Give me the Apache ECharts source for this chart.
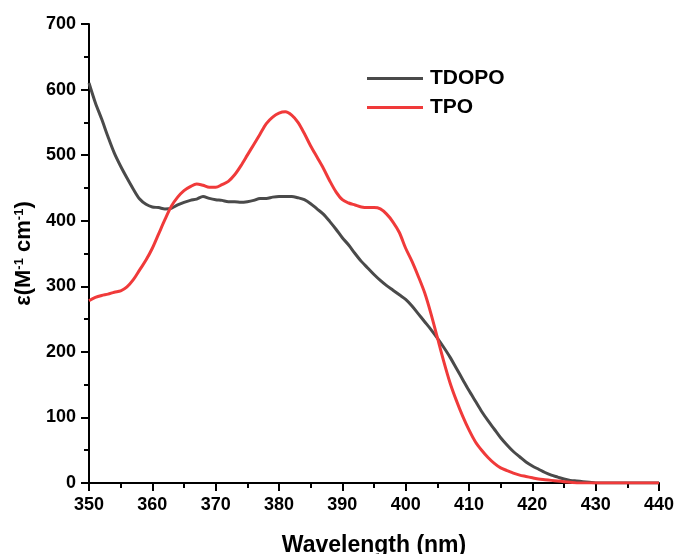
<!DOCTYPE html>
<html>
<head>
<meta charset="utf-8">
<script src="https://cdn.jsdelivr.net/npm/echarts@6/dist/echarts.min.js"></script>
<style>
  html, body { margin: 0; padding: 0; background: #fff; overflow: hidden; }
  #chart { width: 677px; height: 554px; }
</style>
</head>
<body>
<div id="chart"></div>
<script>
  // wavelength grid, nm (1 nm steps, 350..440)
  const wavelengths = [];
  for (let w = 350; w <= 440; w++) wavelengths.push(w);

  // molar absorptivity
  const tdopo = [
    610, 580, 555, 528, 503, 483, 465, 448, 433, 425,
    421, 420, 418, 419, 424, 428, 431, 433, 437, 434,
    432, 431, 429, 429, 428, 429, 431, 434, 434, 436,
    437, 437, 437, 435, 432, 426, 418, 410, 399, 387,
    374, 363, 350, 338, 328, 318, 309, 301, 294, 287,
    280, 270, 258, 246, 234, 221, 207, 192, 175, 158,
    141, 125, 109, 95, 82, 69, 58, 48, 40, 32,
    26, 21, 16, 12, 9, 6, 4, 3, 2, 1,
    0, 0, 0, 0, 0, 0, 0, 0, 0, 0, 0
  ];
  const tpo = [
    278, 283, 286, 288, 291, 293, 299, 310, 325, 340,
    358, 380, 402, 422, 436, 446, 452, 456, 454, 451,
    451, 455, 460, 470, 484, 500, 516, 532, 548, 558,
    564, 566, 561, 550, 533, 514, 497, 480, 461, 444,
    432, 427, 424, 421, 420, 420, 418, 410, 398, 382,
    358, 338, 315, 290, 258, 222, 186, 153, 126, 102,
    81, 63, 50, 39, 30, 23, 19, 15, 12, 10,
    8, 6, 5, 4, 3, 2, 1, 0, 0, 0,
    0, 0, 0, 0, 0, 0, 0, 0, 0, 0, 0
  ];

  const pairs = (ys) => wavelengths.map((w, i) => [w, ys[i]]);

  const font = 'Liberation Sans, Arial, sans-serif';
  const axisCommon = {
    axisLine: { show: true, lineStyle: { color: '#000', width: 2 } },
    axisTick: { show: true, inside: false, length: 8, lineStyle: { color: '#000', width: 2 } },
    minorTick: { show: true, splitNumber: 2, length: 5, lineStyle: { color: '#000', width: 2 } },
    splitLine: { show: false },
    axisLabel: { color: '#000', fontFamily: font, fontWeight: 'bold', fontSize: 18, margin: 13 }
  };

  const chart = echarts.init(document.getElementById('chart'));
  chart.setOption({
    animation: false,
    grid: { left: 89, right: 18, top: 24, bottom: 71, containLabel: false, outerBoundsMode: 'none' },
    legend: {
      orient: 'vertical',
      left: 362,
      top: 63,
      itemWidth: 56,
      itemHeight: 3,
      itemGap: 8,
      icon: 'rect',
      textStyle: { color: '#000', fontFamily: font, fontWeight: 'bold', fontSize: 21, padding: [0, 0, 0, 2] },
      data: ['TDOPO', 'TPO']
    },
    xAxis: Object.assign({
      type: 'value',
      min: 350,
      max: 440,
      interval: 10,
      name: 'Wavelength (nm)',
      nameLocation: 'middle',
      nameGap: 51,
      nameTextStyle: { color: '#000', fontFamily: font, fontWeight: 'bold', fontSize: 23 }
    }, axisCommon),
    yAxis: Object.assign({
      type: 'value',
      min: 0,
      max: 700,
      interval: 100,
      name: '{b|ε(M}{s|-1}{b| cm}{s|-1}{b|)}',
      nameLocation: 'middle',
      nameGap: 52,
      nameTextStyle: {
        rich: {
          b: { color: '#000', fontFamily: font, fontWeight: 'bold', fontSize: 22 },
          s: { color: '#000', fontFamily: font, fontWeight: 'bold', fontSize: 13, verticalAlign: 'top', padding: [0, 0, 9, 0] }
        }
      }
    }, axisCommon),
    series: [
      {
        name: 'TDOPO',
        type: 'line',
        showSymbol: false,
        smooth: 0.3,
        color: '#4a4a4a',
        lineStyle: { width: 3, color: '#4a4a4a' },
        data: pairs(tdopo),
        z: 2
      },
      {
        name: 'TPO',
        type: 'line',
        showSymbol: false,
        smooth: 0.3,
        color: '#f03a3a',
        lineStyle: { width: 3, color: '#f03a3a' },
        data: pairs(tpo),
        z: 3
      }
    ]
  });
</script>
</body>
</html>
